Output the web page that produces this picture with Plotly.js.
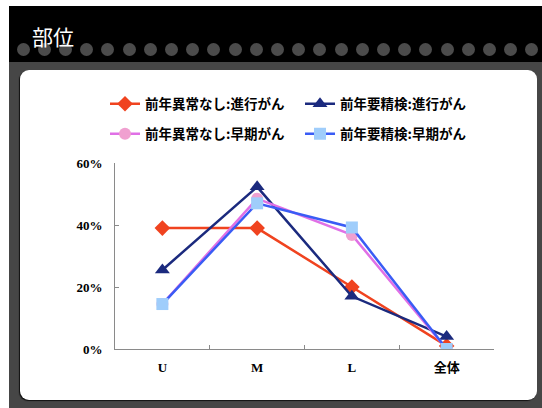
<!DOCTYPE html>
<html>
<head>
<meta charset="utf-8">
<script src="https://cdn.plot.ly/plotly-3.0.1.min.js"></script>
<style>
  html, body { margin: 0; padding: 0; width: 542px; height: 408px; background: #ffffff; overflow: hidden; }
  #outer { position: absolute; left: 9px; top: 6px; width: 533px; height: 402px; background: #464646; }
  #band { position: absolute; left: 9px; top: 6px; width: 533px; height: 56px; background: #000000; }
  .dot { position: absolute; width: 13px; height: 13px; border-radius: 50%; background: #4b4b4b; }
  #title { position: absolute; left: 32px; top: 23px; color: #ffffff; font-family: "Noto Sans CJK JP", sans-serif; font-size: 21px; line-height: 26px; }
  #panel { position: absolute; left: 20px; top: 70px; width: 517px; height: 330px; background: #ffffff; border-radius: 9px; box-shadow: -1px 1px 1px #111; }
  #chart { position: absolute; left: 0; top: 0; width: 542px; height: 408px; }
</style>
</head>
<body>
<div id="outer"></div>
<div id="band"></div>
<div id="dots"></div>
<div id="title">部位</div>
<div id="panel"></div>
<div id="chart"></div>
<script>
// decorative dots row
(function () {
  var holder = document.getElementById('dots');
  for (var i = 0; i < 25; i++) {
    var d = document.createElement('div');
    d.className = 'dot';
    d.style.left = (23 + i * 21.2 - 6.5) + 'px';
    d.style.top = (49 - 6.5) + 'px';
    holder.appendChild(d);
  }
})();

var categories = ['U', 'M', 'L', '全体'];
var seriesNames = ['前年異常なし:進行がん', '前年要精検:進行がん', '前年異常なし:早期がん', '前年要精検:早期がん'];
var normalAdvanced = [0.39, 0.39, 0.20, 0.01];
var recallAdvanced = [0.255, 0.523, 0.17, 0.04];
var normalEarly = [0.145, 0.485, 0.368, 0.0];
var recallEarly = [0.145, 0.47, 0.392, 0.0];

var traces = [
  { x: categories, y: normalAdvanced, name: seriesNames[0], type: 'scatter', mode: 'lines+markers',
    line: { color: '#f0431f', width: 2.5 }, marker: { symbol: 'diamond', size: 12, color: '#f0431f' }, legend: 'legend' },
  { x: categories, y: recallAdvanced, name: seriesNames[1], type: 'scatter', mode: 'lines+markers',
    line: { color: '#1b2a7e', width: 2.5 }, marker: { symbol: 'triangle-up', size: 13, color: '#1b2a7e' }, legend: 'legend' },
  { x: categories, y: normalEarly, name: seriesNames[2], type: 'scatter', mode: 'lines+markers',
    line: { color: '#e070e6', width: 2.5 }, marker: { symbol: 'circle', size: 12, color: '#f0a0d0' }, legend: 'legend2' },
  { x: categories, y: recallEarly, name: seriesNames[3], type: 'scatter', mode: 'lines+markers',
    line: { color: '#3a5cf5', width: 2.5 }, marker: { symbol: 'square', size: 12, color: '#9fcdfb' }, legend: 'legend2' }
];

var tickFont = { family: '"Liberation Serif", "Noto Sans CJK JP", serif', size: 13, color: '#000000', weight: 'bold' };
var legendFont = { family: '"Noto Sans CJK JP", sans-serif', size: 13.5, color: '#000000', weight: 'bold' };

var plotW = 542 - 115 - 48;
var plotH = 408 - 163 - 59;
var legendX = (105 - 115) / plotW;

var layout = {
  width: 542, height: 408,
  paper_bgcolor: 'rgba(0,0,0,0)',
  plot_bgcolor: 'rgba(0,0,0,0)',
  margin: { l: 115, r: 48, t: 163, b: 59, pad: 0 },
  showlegend: true,
  xaxis: {
    type: 'category', range: [-0.5, 3.5],
    showline: true, linecolor: '#8a8a8a', linewidth: 1,
    ticks: 'inside', tickson: 'boundaries', ticklen: 4, tickcolor: '#8a8a8a',
    showgrid: false, zeroline: false,
    tickfont: tickFont, ticklabelstandoff: 6
  },
  yaxis: {
    range: [0, 0.6], dtick: 0.2, tick0: 0, tickformat: '.0%',
    showline: true, linecolor: '#8a8a8a', linewidth: 1,
    ticks: 'inside', ticklen: 4, tickcolor: '#8a8a8a',
    showgrid: false, zeroline: false,
    tickfont: tickFont, ticklabelstandoff: 9
  },
  legend: {
    orientation: 'h', xref: 'paper', yref: 'paper',
    x: legendX, y: (349 - 104) / plotH, xanchor: 'left', yanchor: 'middle',
    entrywidth: 150, font: legendFont, bgcolor: 'rgba(0,0,0,0)', itemclick: false
  },
  legend2: {
    orientation: 'h', xref: 'paper', yref: 'paper',
    x: legendX, y: (349 - 134) / plotH, xanchor: 'left', yanchor: 'middle',
    entrywidth: 150, font: legendFont, bgcolor: 'rgba(0,0,0,0)', itemclick: false
  }
};

Plotly.newPlot('chart', traces, layout, { displayModeBar: false, staticPlot: true });
</script>
</body>
</html>
